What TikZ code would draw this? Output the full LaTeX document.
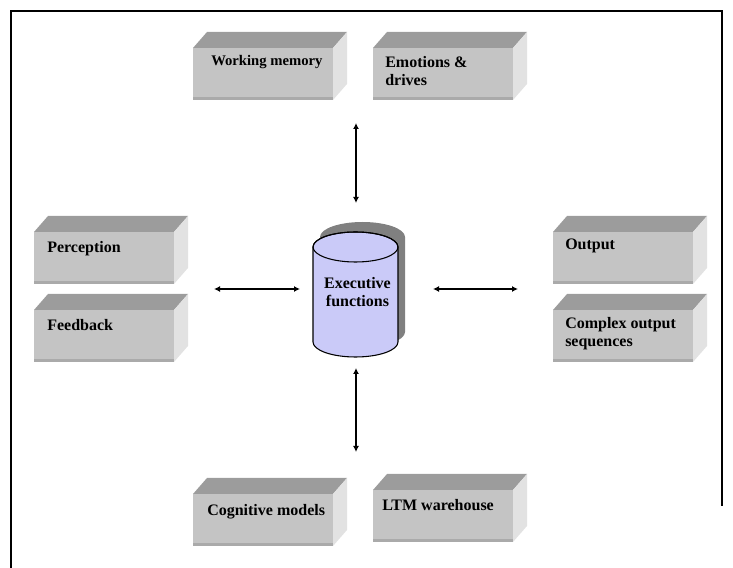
\documentclass[tikz,border=0pt]{standalone}
\usepackage{fontspec}
\setmainfont{Liberation Serif}
\usetikzlibrary{arrows.meta}

\definecolor{boxtop}{HTML}{9C9C9C}
\definecolor{boxfront}{HTML}{C4C4C4}
\definecolor{boxside}{HTML}{E2E2E2}
\definecolor{boxedge}{HTML}{AAAAAA}
\definecolor{drumfill}{HTML}{CACAF8}
\definecolor{drumshade}{HTML}{808080}

\tikzset{
  boxlabel/.style={anchor=north west, inner sep=0pt, align=left,
    font=\bfseries\fontsize{12}{13.5}\selectfont},
  link/.style={<->, >={Latex[length=4.5pt,width=4.5pt]}, line width=1.3pt},
}

\newcommand{\blockbox}[6]{%
  \fill[boxtop] (#2,#3) -- ++(14,16) -- ++(140,0) -- ++(-14,-16) -- cycle;
  \fill[boxside] (#2+140,#3) -- ++(14,16) -- ++(0,-52) -- ++(-14,-16) -- cycle;
  \fill[boxfront] (#2,#3) rectangle ++(140,-52);
  \fill[boxedge] (#2,#3-49) rectangle ++(140,-3);
  \node[boxlabel] (#1) at (#2+#4,#3-#5) {#6};
}

\begin{document}
\begin{tikzpicture}[x=0.75pt,y=0.75pt]
  \useasboundingbox (0,0) rectangle (733,568);
  \draw[line width=1.5pt] (11,0) -- (11,557) -- (722,557) -- (722,62);

  \blockbox{wm}{193}{520}{18}{6.7}{\fontsize{11}{13.5}\selectfont Working memory}
  \blockbox{emo}{373}{520}{12}{7.8}{Emotions \&\\drives}
  \blockbox{perc}{34}{336}{13}{8.8}{Perception}
  \blockbox{feed}{34}{258}{13}{8.8}{Feedback}
  \blockbox{out}{553}{336}{12}{6.8}{Output}
  \blockbox{cplx}{553}{258}{12}{6.8}{Complex output\\sequences}
  \blockbox{cog}{193}{74}{14}{9.8}{Cognitive models}
  \blockbox{ltm}{373}{78}{9}{8.8}{LTM warehouse}

  \fill[drumshade] (320,331) -- (320,236) arc[start angle=180,end angle=360,x radius=42.5,y radius=15]
    -- (405,331) arc[start angle=0,end angle=180,x radius=42.5,y radius=15] -- cycle;
  \filldraw[fill=drumfill, line width=0.8pt] (313,321) -- (313,226)
    arc[start angle=180,end angle=360,x radius=42.5,y radius=15]
    -- (398,321) arc[start angle=0,end angle=180,x radius=42.5,y radius=15] -- cycle;
  \draw[line width=0.8pt] (355.5,321) ellipse [x radius=42.5, y radius=15];
  \node[align=center, inner sep=0pt, font=\bfseries\fontsize{12}{13.5}\selectfont] (exec) at (357.5,275.5) {Executive\\functions};

  \coordinate (t1) at (356,445);
  \coordinate (t2) at (356,365);
  \coordinate (b1) at (356,200);
  \coordinate (b2) at (356,116);
  \coordinate (l1) at (214,279);
  \coordinate (l2) at (300,279);
  \coordinate (r1) at (433,279);
  \coordinate (r2) at (518,279);

  \draw [link] (t1) -- (t2);
  \draw [link] (b1) -- (b2);
  \draw [link] (l1) -- (l2);
  \draw [link] (r1) -- (r2);
\end{tikzpicture}
\end{document}
